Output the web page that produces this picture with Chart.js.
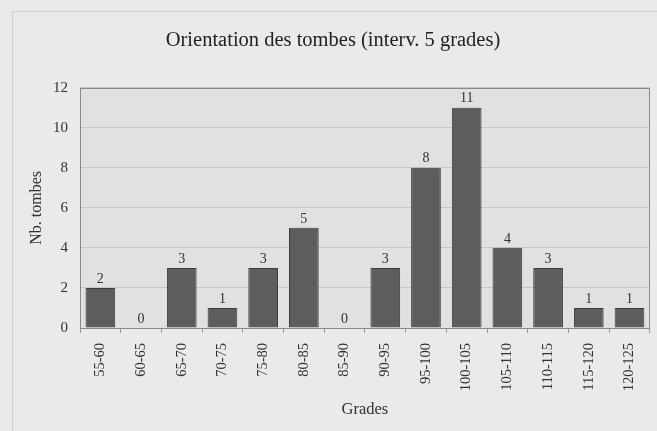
<!DOCTYPE html>
<html><head><meta charset="utf-8">
<script src="https://cdn.jsdelivr.net/npm/chart.js@4"></script>
<style>html,body{margin:0;padding:0;background:#eaeae8;}#wrap{width:657px;height:431px;}</style>
</head><body><div id="wrap"><canvas id="c" width="657" height="431"></canvas></div>
<script>
const categories = ["55-60","60-65","65-70","70-75","75-80","80-85","85-90","90-95","95-100","100-105","105-110","110-115","115-120","120-125"];
const counts = [2,0,3,1,3,5,0,3,8,11,4,3,1,1];
const yTicks = [0,2,4,6,8,10,12];
const chartTitle = "Orientation des tombes (interv. 5 grades)";
const xTitle = "Grades";
const yTitle = "Nb. tombes";

const FONT = "'Liberation Serif', 'DejaVu Serif', serif";

const deco = {
  id: 'deco',
  beforeDraw(chart) {
    const ctx = chart.ctx, a = chart.chartArea;
    ctx.save();
    ctx.fillStyle = '#eaeae8';
    ctx.fillRect(0, 0, chart.width, chart.height);
    ctx.strokeStyle = '#cfcfcd';
    ctx.lineWidth = 1;
    ctx.strokeRect(12.5, 11.5, chart.width, chart.height);
    ctx.fillStyle = '#e1e1df';
    ctx.fillRect(a.left, a.top, a.right - a.left, a.bottom - a.top);
    ctx.restore();
  },
  beforeDatasetsDraw(chart) {
    const ctx = chart.ctx, a = chart.chartArea;
    ctx.save();
    ctx.strokeStyle = '#8a8a88';
    ctx.lineWidth = 1;
    ctx.strokeRect(Math.round(a.left) + 0.5, Math.round(a.top) + 0.5, Math.round(a.right - a.left) - 1, Math.round(a.bottom - a.top));
    ctx.restore();
  },
  afterDatasetsDraw(chart) {
    const ctx = chart.ctx;
    const meta = chart.getDatasetMeta(0);
    ctx.save();
    ctx.fillStyle = '#333';
    ctx.font = "14px " + FONT;
    ctx.textAlign = 'center';
    ctx.textBaseline = 'bottom';
    meta.data.forEach((bar, i) => {
      ctx.fillText(String(counts[i]), bar.x, bar.y - 2);
    });
    ctx.restore();
  }
};

new Chart(document.getElementById('c'), {
  type: 'bar',
  data: {
    labels: categories,
    datasets: [{
      data: counts,
      backgroundColor: '#5d5c5e',
      borderColor: '#3c3c3c',
      borderWidth: 1,
      barPercentage: 0.73,
      categoryPercentage: 1
    }]
  },
  options: {
    responsive: false,
    animation: false,
    devicePixelRatio: 1,
    layout: { padding: { left: 12, right: 3, top: 0, bottom: 0 } },
    plugins: {
      legend: { display: false },
      tooltip: { enabled: false },
      title: {
        display: true,
        text: chartTitle,
        color: '#222',
        font: { family: FONT, size: 20.5, weight: 'normal' },
        padding: { top: 28, bottom: 35 }
      }
    },
    scales: {
      x: {
        grid: { display: true, drawOnChartArea: false, drawTicks: true, tickLength: 5, color: '#9a9a98', offset: true },
        border: { display: false },
        ticks: { color: '#333', font: { family: FONT, size: 14.5 }, minRotation: 90, maxRotation: 90, padding: 10, autoSkip: false },
        title: { display: true, text: xTitle, color: '#333', font: { family: FONT, size: 16.5 }, padding: { top: 0, bottom: 11 } },
        afterFit(scale) { scale.height = 103; }
      },
      y: {
        min: 0, max: 12,
        afterBuildTicks(scale) { scale.ticks = yTicks.map(v => ({ value: v })); },
        grid: { color: '#c6c6c4', drawTicks: false },
        border: { display: false },
        ticks: { color: '#333', font: { family: FONT, size: 15 }, padding: 12 },
        title: { display: true, text: yTitle, color: '#333', font: { family: FONT, size: 16 }, padding: { top: 15, bottom: 0 } },
        afterFit(scale) { scale.width = 68; }
      }
    }
  },
  plugins: [deco]
});
</script>
</body></html>
